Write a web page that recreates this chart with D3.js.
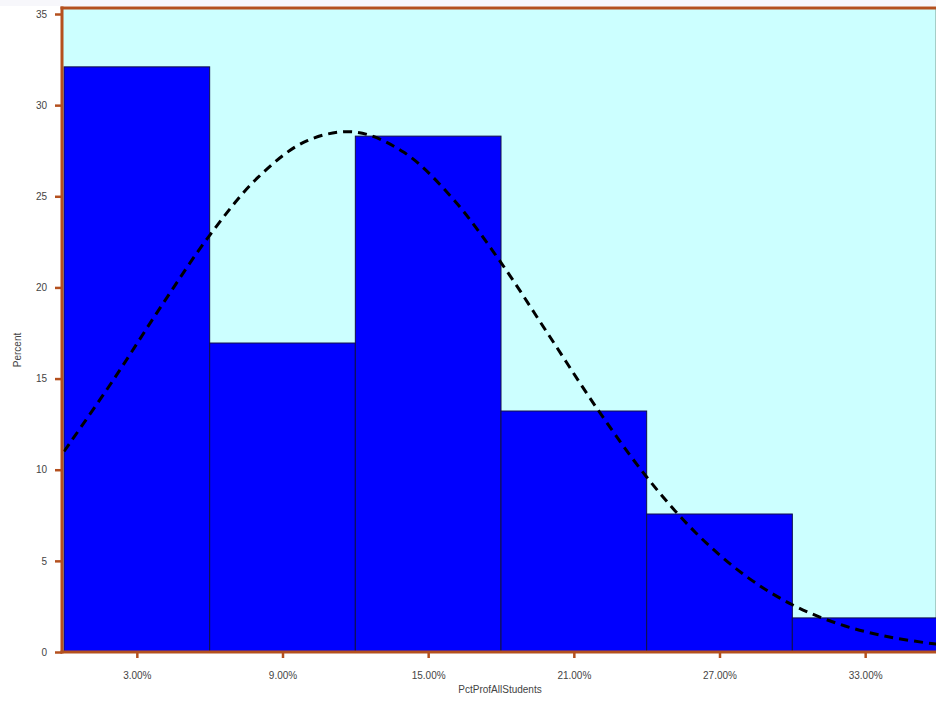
<!DOCTYPE html>
<html>
<head>
<meta charset="utf-8">
<script src="https://cdn.jsdelivr.net/npm/d3@7"></script>
<style>
  body { margin: 0; background: #ffffff; }
  svg { display: block; }
</style>
</head>
<body>
<svg id="chart" width="936" height="704"></svg>
<script>
// ---- data ----
const binStarts = [0, 6, 12, 18, 24, 30];
const binWidth = 6;
const percents = [32.1, 16.95, 28.3, 13.22, 7.57, 1.87];
const xTickValues = [3, 9, 15, 21, 27, 33];
const xTickLabels = ["3.00%", "9.00%", "15.00%", "21.00%", "27.00%", "33.00%"];
const yTickValues = [0, 5, 10, 15, 20, 25, 30, 35];
const curveX = [0, 2, 4, 6, 8, 10, 12, 14, 16, 18, 20, 22, 24, 26, 28, 30, 32, 34, 36];
const curveY = [11.0, 14.86, 18.96, 22.86, 26.05, 28.04, 28.52, 27.41, 24.89, 21.36, 17.32, 13.27, 9.6, 6.57, 4.25, 2.59, 1.5, 0.82, 0.42];
const xTitle = "PctProfAllStudents";
const yTitle = "Percent";

// ---- layout ----
const svg = d3.select("#chart");
const pLeft = 62, pRight = 936, pTop = 8, pBottom = 652;
const x = d3.scaleLinear().domain([0, 36]).range([64, 938]);
const y = d3.scaleLinear().domain([0, 35]).range([652, 14]);
const axisColor = "#b4501e";

svg.append("rect").attr("x", 0).attr("y", 0).attr("width", 936).attr("height", 6).attr("fill", "#f7f7fb");

svg.append("defs").append("clipPath").attr("id", "clip")
  .append("rect").attr("x", pLeft).attr("y", pTop).attr("width", pRight - pLeft).attr("height", pBottom - pTop);

// plot background
svg.append("rect").attr("x", pLeft).attr("y", pTop).attr("width", pRight - pLeft).attr("height", pBottom - pTop)
  .attr("fill", "#ccffff").attr("stroke", "#7f9a8e").attr("stroke-width", 1);

const plot = svg.append("g").attr("clip-path", "url(#clip)");

// bars
plot.selectAll("rect.bar").data(binStarts).join("rect")
  .attr("class", "bar")
  .attr("x", (d) => x(d))
  .attr("width", x(binWidth) - x(0))
  .attr("y", (d, i) => y(percents[i]))
  .attr("height", (d, i) => y(0) - y(percents[i]))
  .attr("fill", "#0000ff")
  .attr("stroke", "#10104a")
  .attr("stroke-width", 1);

// fitted curve
const pts = curveX.map((v, i) => [v, curveY[i]]);
plot.append("path").datum(pts)
  .attr("fill", "none")
  .attr("stroke", "#000")
  .attr("stroke-width", 3)
  .attr("stroke-dasharray", "9,6")
  .attr("d", d3.line().x(d => x(d[0])).y(d => y(d[1])).curve(d3.curveCatmullRom));

// axes
const xAxis = svg.append("g").attr("transform", `translate(0,${pBottom})`)
  .call(d3.axisBottom(x).tickValues(xTickValues).tickFormat((d, i) => xTickLabels[i]).tickSize(6).tickPadding(14));
const yAxis = svg.append("g").attr("transform", `translate(${pLeft},0)`)
  .call(d3.axisLeft(y).tickValues(yTickValues).tickSize(7).tickPadding(8));

[xAxis, yAxis].forEach(g => {
  g.select(".domain").remove();
  g.selectAll(".tick line").attr("stroke", axisColor).attr("stroke-width", 2.5);
  g.selectAll(".tick text").attr("fill", "#444").attr("font-family", "Liberation Sans, Arial, sans-serif").attr("font-size", 10);
});

// axis lines (brown frame)
svg.append("line").attr("x1", pLeft).attr("x2", pLeft).attr("y1", pTop - 1.5).attr("y2", pBottom + 1.5)
  .attr("stroke", axisColor).attr("stroke-width", 3);
svg.append("line").attr("x1", pLeft - 1.5).attr("x2", 936).attr("y1", pBottom).attr("y2", pBottom)
  .attr("stroke", axisColor).attr("stroke-width", 3);
svg.append("line").attr("x1", pLeft - 1.5).attr("x2", 936).attr("y1", pTop).attr("y2", pTop)
  .attr("stroke", axisColor).attr("stroke-width", 3);

// titles
svg.append("text").attr("x", 500).attr("y", 693).attr("text-anchor", "middle")
  .attr("font-family", "Liberation Sans, Arial, sans-serif").attr("font-size", 10).attr("fill", "#444").text(xTitle);
svg.append("text").attr("transform", "translate(21,350) rotate(-90)").attr("text-anchor", "middle")
  .attr("font-family", "Liberation Sans, Arial, sans-serif").attr("font-size", 10).attr("fill", "#444").text(yTitle);
</script>
</body>
</html>
